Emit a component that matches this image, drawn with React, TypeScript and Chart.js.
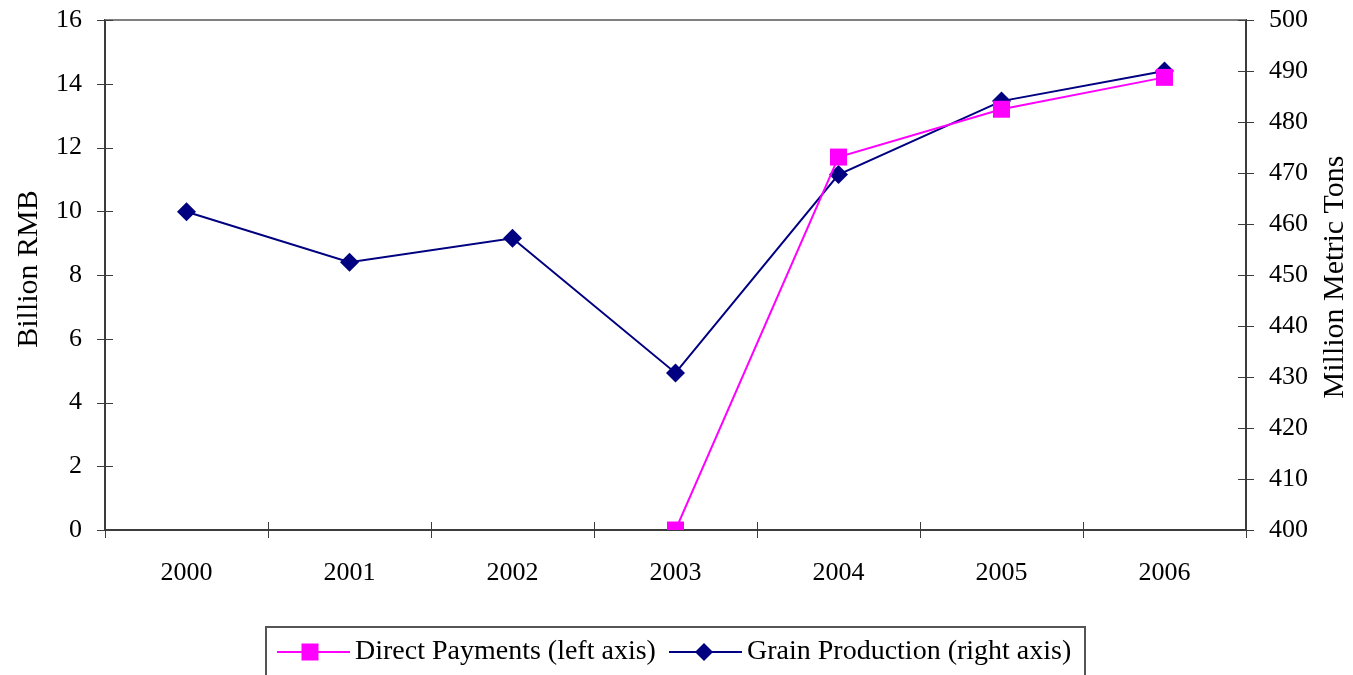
import React, { useEffect, useRef } from "react";
import { Chart, registerables } from "chart.js";

Chart.register(...registerables);

const years = ["2000", "2001", "2002", "2003", "2004", "2005", "2006"];
const directPayments = [null, null, null, 0, 11.7, 13.2, 14.2];
const grainProduction = [462.4, 452.5, 457.2, 430.8, 469.7, 484.1, 490.0];
const leftAxisRange = [0, 16, 2];
const rightAxisRange = [400, 500, 10];
const leftTitle = "Billion RMB";
const rightTitle = "Million Metric Tons";
const legendLabels = ["Direct Payments (left axis)", "Grain Production (right axis)"];

const MAGENTA = "#FF00FF";
const NAVY = "#000080";
const AXIS = "#3c3c3c";
const FONT = "'Liberation Serif', 'Times New Roman', serif";

const framePlugin = {
  id: "frame",
  afterDraw(chart: any) {
    const ctx = chart.ctx;
    const { left, right, top, bottom } = chart.chartArea;
    const x = chart.scales.x;
    const yl = chart.scales.y;
    const yr = chart.scales.y1;
    ctx.save();
    // top border
    ctx.strokeStyle = "#808080";
    ctx.lineWidth = 2;
    ctx.beginPath();
    ctx.moveTo(left, top);
    ctx.lineTo(right, top);
    ctx.stroke();
    // ticks
    ctx.strokeStyle = AXIS;
    ctx.lineWidth = 1;
    ctx.beginPath();
    yl.ticks.forEach((t: any) => {
      const py = Math.round(yl.getPixelForValue(t.value)) + 0.5;
      ctx.moveTo(left - 8, py);
      ctx.lineTo(left + 8, py);
    });
    yr.ticks.forEach((t: any) => {
      const py = Math.round(yr.getPixelForValue(t.value)) + 0.5;
      ctx.moveTo(right - 8, py);
      ctx.lineTo(right + 8, py);
    });
    const n = years.length;
    const half = (x.getPixelForValue(1) - x.getPixelForValue(0)) / 2;
    for (let i = 0; i <= n; i++) {
      const px = Math.round(x.getPixelForValue(i) - half) + 0.5;
      ctx.moveTo(px, bottom - 8);
      ctx.lineTo(px, bottom + 8);
    }
    ctx.stroke();

    // axis titles
    ctx.fillStyle = "#000";
    ctx.font = `30px ${FONT}`;
    ctx.textAlign = "center";
    ctx.textBaseline = "middle";
    ctx.save();
    ctx.translate(29, (top + bottom) / 2 - 6);
    ctx.rotate(-Math.PI / 2);
    ctx.fillText(leftTitle, 0, 0);
    ctx.restore();
    ctx.save();
    ctx.translate(1335, (top + bottom) / 2 + 2);
    ctx.rotate(-Math.PI / 2);
    ctx.fillText(rightTitle, 0, 0);
    ctx.restore();

    // legend
    const boxL = 266, boxT = 627, boxR = 1085, boxB = 700;
    ctx.strokeStyle = "#555555";
    ctx.lineWidth = 2;
    ctx.strokeRect(boxL, boxT, boxR - boxL, boxB - boxT);
    const ly = 652;
    const items = [
      { color: MAGENTA, x0: 277, x1: 350, mx: 310, style: "rect", tx: 355 },
      { color: NAVY, x0: 669, x1: 742, mx: 704, style: "diamond", tx: 747 },
    ];
    items.forEach((it, i) => {
      ctx.strokeStyle = it.color;
      ctx.lineWidth = 2;
      ctx.beginPath();
      ctx.moveTo(it.x0, ly);
      ctx.lineTo(it.x1, ly);
      ctx.stroke();
      ctx.fillStyle = it.color;
      ctx.beginPath();
      if (it.style === "rect") {
        ctx.rect(it.mx - 8.5, ly - 8.5, 17, 17);
      } else {
        ctx.moveTo(it.mx - 9, ly);
        ctx.lineTo(it.mx, ly - 9);
        ctx.lineTo(it.mx + 9, ly);
        ctx.lineTo(it.mx, ly + 9);
        ctx.closePath();
      }
      ctx.fill();
      ctx.fillStyle = "#000";
      ctx.font = `28px ${FONT}`;
      ctx.textAlign = "left";
      ctx.textBaseline = "middle";
      ctx.fillText(legendLabels[i], it.tx, ly);
    });
    ctx.restore();
  },
};

export default function App() {
  const ref = useRef<HTMLCanvasElement | null>(null);
  useEffect(() => {
    if (!ref.current) return;
    const chart = new Chart(ref.current, {
      type: "line",
      data: {
        labels: years,
        datasets: [
          {
            label: legendLabels[0],
            data: directPayments,
            yAxisID: "y",
            borderColor: MAGENTA,
            backgroundColor: MAGENTA,
            borderWidth: 2,
            pointStyle: "rect",
            pointRadius: 12,
            pointHoverRadius: 12,
            pointBorderWidth: 0,
            spanGaps: false,
            tension: 0,
          },
          {
            label: legendLabels[1],
            data: grainProduction,
            yAxisID: "y1",
            borderColor: NAVY,
            backgroundColor: NAVY,
            borderWidth: 2,
            pointStyle: "rectRot",
            pointRadius: 9.5,
            pointHoverRadius: 9.5,
            pointBorderWidth: 0,
            tension: 0,
          },
        ],
      },
      options: {
        responsive: false,
        animation: false,
        layout: { padding: { top: 20, left: 0, right: 0, bottom: 0 } },
        plugins: {
          legend: { display: false },
          tooltip: { enabled: false },
        },
        scales: {
          x: {
            type: "category",
            offset: true,
            grid: { display: true, drawOnChartArea: false, drawTicks: true, tickLength: 8, color: "rgba(0,0,0,0)", offset: true },
            border: { display: true, color: AXIS, width: 2 },
            ticks: { color: "#000", font: { family: FONT, size: 26 }, padding: 20, maxRotation: 0 },
            afterFit: (s: any) => { s.height = 145; s.paddingLeft = 0; s.paddingRight = 0; },
          },
          y: {
            position: "left",
            min: leftAxisRange[0],
            max: leftAxisRange[1],
            ticks: { stepSize: leftAxisRange[2], color: "#000", font: { family: FONT, size: 26 }, padding: 15 },
            grid: { display: true, drawOnChartArea: false, drawTicks: true, tickLength: 8, color: "rgba(0,0,0,0)" },
            border: { display: true, color: AXIS, width: 2 },
            afterFit: (s: any) => { s.width = 105; s.paddingTop = 0; s.paddingBottom = 0; },
          },
          y1: {
            position: "right",
            min: rightAxisRange[0],
            max: rightAxisRange[1],
            ticks: { stepSize: rightAxisRange[2], color: "#000", font: { family: FONT, size: 26 }, padding: 15 },
            grid: { display: true, drawOnChartArea: false, drawTicks: true, tickLength: 8, color: "rgba(0,0,0,0)" },
            border: { display: true, color: AXIS, width: 2 },
            afterFit: (s: any) => { s.width = 107; s.paddingTop = 0; s.paddingBottom = 0; },
          },
        },
      },
      plugins: [framePlugin],
    });
    return () => chart.destroy();
  }, []);
  return (
    <div style={{ position: "fixed", left: 0, top: 0, width: 1353, height: 675, background: "#fff" }}>
      <canvas ref={ref} width={1353} height={675} style={{ display: "block" }} />
    </div>
  );
}
